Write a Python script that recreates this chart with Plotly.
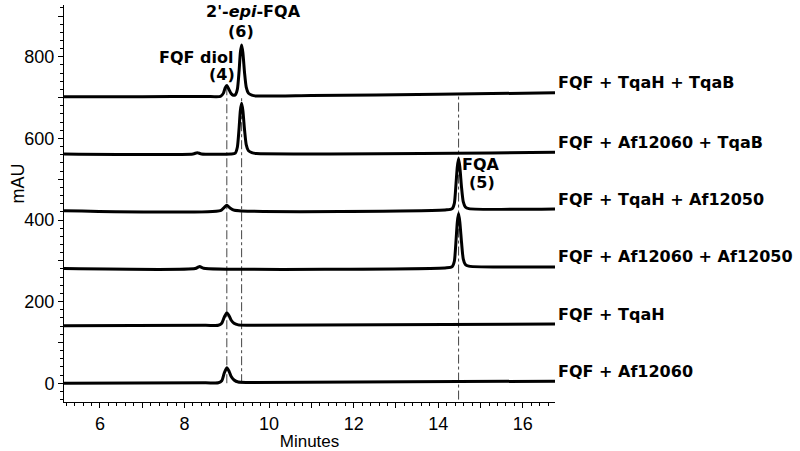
import plotly.graph_objects as go

# sample names, top to bottom
samples = ['FQF + TqaH + TqaB', 'FQF + Af12060 + TqaB', 'FQF + TqaH + Af12050',
           'FQF + Af12060 + Af12050', 'FQF + TqaH', 'FQF + Af12060']

# retention time (min) / absorbance (mAU)
t_tqah_tqab = [5.15, 7.0, 8.5, 8.85, 8.92, 8.96, 9.0, 9.05, 9.1, 9.15, 9.2, 9.25, 9.29, 9.32,
               9.35, 9.38, 9.42, 9.46, 9.51, 9.59, 9.7, 11.0, 14.0, 16.76]
a_tqah_tqab = [702, 702, 703, 703, 711, 724, 730, 720, 710, 706, 707, 721, 765, 810,
               829, 810, 760, 725, 711, 706, 704, 705, 708, 712]

t_af60_tqab = [5.15, 8.2, 8.3, 8.4, 9.1, 9.2, 9.25, 9.29, 9.32, 9.35, 9.38, 9.42, 9.46,
               9.51, 9.59, 9.7, 16.76]
a_af60_tqab = [562, 562, 565, 562, 562, 564, 579, 625, 668, 686, 668, 620, 584,
               570, 565, 563, 566]

t_tqah_af50 = [5.15, 8.85, 8.93, 9.0, 9.07, 9.18, 14.2, 14.33, 14.38, 14.42, 14.45, 14.48,
               14.51, 14.55, 14.59, 14.64, 14.72, 16.76]
a_tqah_af50 = [423, 423, 430, 436, 430, 424, 425, 428, 441, 490, 530, 551,
               530, 480, 445, 432, 428, 427]

t_af60_af50 = [5.15, 8.25, 8.33, 8.36, 8.45, 14.2, 14.33, 14.38, 14.42, 14.45, 14.48,
               14.51, 14.55, 14.59, 14.64, 14.72, 16.76]
a_af60_af50 = [281, 281, 285, 286, 282, 283, 286, 299, 350, 395, 416,
               395, 345, 305, 291, 287, 285]

t_tqah = [5.15, 8.5, 8.8, 8.88, 8.94, 9.0, 9.05, 9.1, 9.17, 9.27, 9.5, 16.76]
a_tqah = [141, 142, 142, 147, 162, 173, 166, 155, 147, 143, 142, 145]

t_af60 = [5.15, 8.5, 8.8, 8.88, 8.94, 9.0, 9.05, 9.1, 9.17, 9.27, 9.5, 16.76]
a_af60 = [0, 1, 1, 6, 25, 38, 30, 17, 8, 3, 2, 5]

traces_t = [t_tqah_tqab, t_af60_tqab, t_tqah_af50, t_af60_af50, t_tqah, t_af60]
traces_a = [a_tqah_tqab, a_af60_tqab, a_tqah_af50, a_af60_af50, a_tqah, a_af60]

# guide lines at the product retention times: (time, bottom, top)
guide_times = [9.0, 9.35, 14.48]
guide_bottom = [0, 0, -40]
guide_top = [728, 702, 703]

# peak labels: (text, time, mAU)
peak_labels = [("2'-<i>epi</i>-FQA", 9.62, 912), ('(6)', 9.34, 861),
               ('FQF diol', 8.28, 799), ('(4)', 8.88, 756),
               ('FQA', 15.02, 537), ('(5)', 15.03, 491)]

BOLD = 'DejaVu Sans, Verdana, sans-serif'
PLAIN = 'Liberation Sans, Arial, sans-serif'

fig = go.Figure()
for t, a in zip(traces_t, traces_a):
    fig.add_trace(go.Scatter(x=t, y=a, mode='lines', line=dict(color='black', width=3,
                             shape='spline', smoothing=0.6), showlegend=False, hoverinfo='skip'))

for x0, y0, y1 in zip(guide_times, guide_bottom, guide_top):
    fig.add_shape(type='line', x0=x0, x1=x0, y0=y0, y1=y1, xref='x', yref='y',
                  line=dict(color='#444', width=1, dash='dashdot'), layer='below')

for name, a in zip(samples, traces_a):
    fig.add_annotation(text=f'<b>{name}</b>', xref='paper', x=1.003, y=a[-1], yref='y',
                       xanchor='left', yanchor='middle', yshift=10, showarrow=False,
                       font=dict(family=BOLD, size=16, color='black'))

for text, x, y in peak_labels:
    fig.add_annotation(text=f'<b>{text}</b>', x=x, y=y, xref='x', yref='y', showarrow=False,
                       xanchor='center', yanchor='middle',
                       font=dict(family=BOLD, size=16, color='black'))

fig.add_annotation(text='mAU', xref='paper', yref='paper', x=-0.094, y=0.55, textangle=-90,
                   xanchor='center', yanchor='middle',
                   showarrow=False, font=dict(family=PLAIN, size=18, color='black'))

fig.update_layout(
    width=800, height=451,
    margin=dict(l=64, r=245, t=5, b=49),
    plot_bgcolor='white', paper_bgcolor='white',
    font=dict(family=PLAIN, size=18, color='black'),
)
fig.update_xaxes(range=[5.15, 16.76], showgrid=False, zeroline=False,
                 showline=True, linecolor='black', linewidth=1,
                 tickvals=list(range(6, 17)),
                 ticktext=[str(v) if v % 2 == 0 else '' for v in range(6, 17)],
                 ticks='outside', ticklen=5, tickcolor='black',
                 minor=dict(dtick=0.2, tick0=0, ticks='outside', ticklen=3, tickcolor='black'),
                 title=dict(text='Minutes', standoff=2, font=dict(size=17)))
fig.update_yaxes(range=[-46, 927], showgrid=False, zeroline=False,
                 showline=True, linecolor='black', linewidth=1,
                 tickvals=list(range(0, 901, 100)),
                 ticktext=[str(v) if v % 200 == 0 else '' for v in range(0, 901, 100)],
                 ticks='outside', ticklen=5, tickcolor='black',
                 minor=dict(dtick=20, tick0=0, ticks='outside', ticklen=3, tickcolor='black'))

fig.write_html('out.html', config={'displayModeBar': False},
               post_script="document.body.style.margin='0px';")
